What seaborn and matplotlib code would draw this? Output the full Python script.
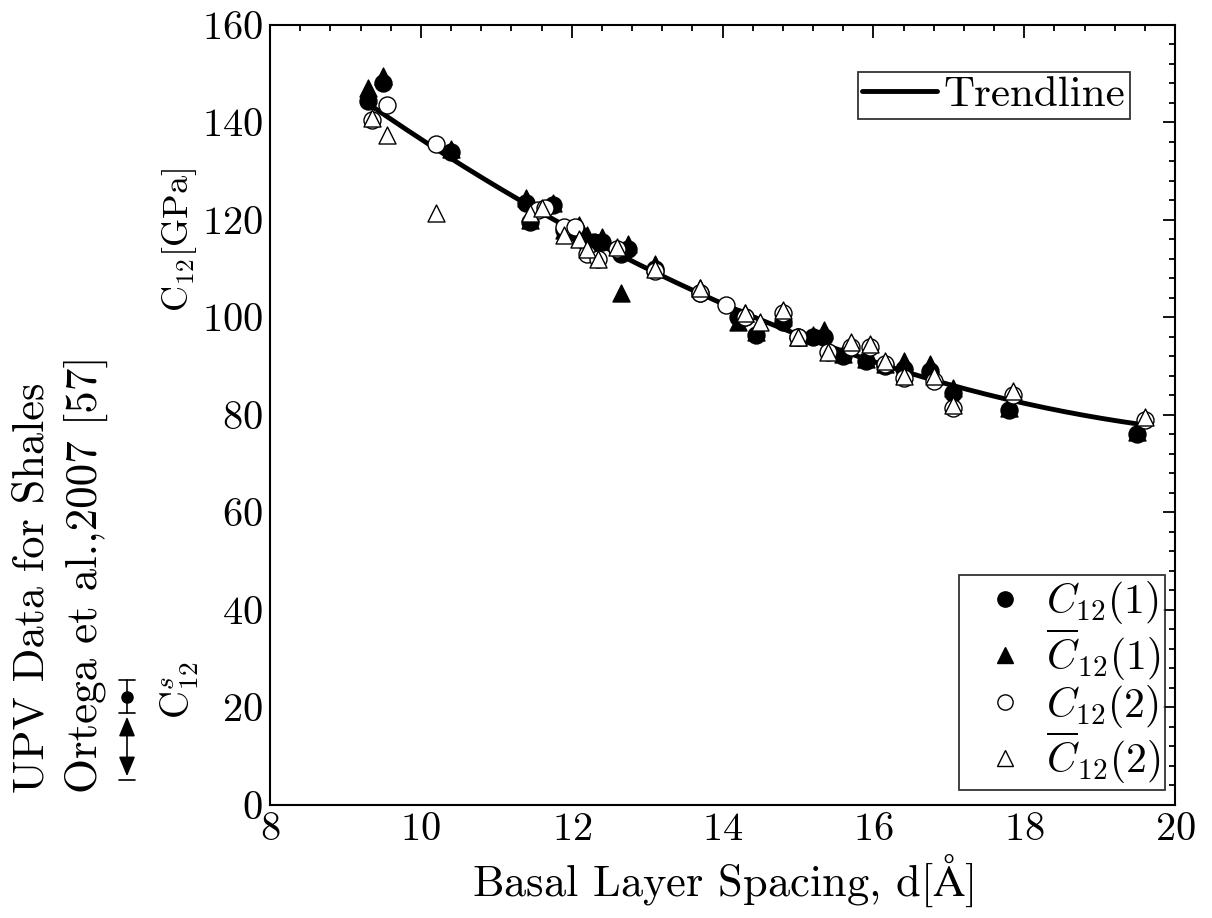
import numpy as np
import pandas as pd
import matplotlib
matplotlib.use("Agg")
import matplotlib.pyplot as plt
from matplotlib.lines import Line2D
from matplotlib.patches import FancyArrowPatch
import seaborn as sns

# Data
d_c1 = [9.3, 9.5, 10.4, 11.4, 11.45, 11.75, 11.9, 12.1, 12.2, 12.3, 12.4, 12.65, 12.75, 13.1, 13.7,
        14.2, 14.3, 14.45, 14.8, 15.0, 15.2, 15.35, 15.6, 15.9, 16.15, 16.4, 16.75, 17.05, 17.8, 19.5]
c12_1 = [144.5, 148, 134, 123.5, 119.5, 123, 118, 117, 115, 115.5, 115.5, 113, 114, 110, 105,
         100, 100, 96.5, 99, 96, 96, 96, 92, 91, 90, 89.5, 89, 84.5, 81, 76]

d_t1 = [9.3, 9.5, 10.4, 11.4, 11.45, 11.75, 11.9, 12.1, 12.2, 12.4, 12.65, 12.75, 13.1, 13.7,
        14.2, 14.3, 14.45, 14.8, 15.0, 15.2, 15.35, 15.6, 15.9, 16.15, 16.4, 16.75, 17.05, 17.8, 19.5]
cbar12_1 = [147, 149.5, 134.5, 124.5, 120, 123.5, 118, 119, 117, 116.5, 105, 115, 111, 106,
            99, 101, 97, 100, 96, 96.5, 97.5, 92.5, 91.5, 90.5, 91, 90.5, 85.5, 81.5, 76.5]

d_c2 = [9.35, 9.55, 10.2, 11.55, 11.65, 11.9, 12.05, 12.2, 12.35, 12.6, 13.1, 13.7, 14.05, 14.3,
        14.8, 15.0, 15.4, 15.7, 15.95, 16.15, 16.4, 16.8, 17.05, 17.85, 19.6]
c12_2 = [140.5, 143.5, 135.5, 122, 122.5, 118.5, 118.5, 113, 112, 114, 109.5, 105, 102.5, 100,
         101, 96, 93, 94, 94, 90.5, 87.5, 87, 81.5, 84, 79]

d_t2 = [9.35, 9.55, 10.2, 11.45, 11.6, 11.9, 12.1, 12.2, 12.35, 12.6, 13.1, 13.7, 14.3, 14.5,
        14.8, 15.0, 15.4, 15.7, 15.95, 16.15, 16.4, 16.8, 17.05, 17.85, 19.6]
cbar12_2 = [141, 137.5, 121.5, 121.5, 122.5, 117, 116, 114, 112, 114.5, 110, 106, 101, 99,
            101.5, 96, 93, 95, 94.5, 91, 88, 88, 82, 85, 79.5]

series_labels = [r"$C_{12}(1)$", r"$\overline{C}_{12}(1)$", r"$C_{12}(2)$", r"$\overline{C}_{12}(2)$"]

sns.set_style("white")
plt.rcParams["font.family"] = ["cmr10", "DejaVu Serif"]
plt.rcParams["mathtext.fontset"] = "cm"
plt.rcParams["axes.formatter.use_mathtext"] = True
plt.rcParams["text.color"] = "black"
plt.rcParams["axes.labelcolor"] = "black"
plt.rcParams["xtick.color"] = "black"
plt.rcParams["ytick.color"] = "black"

fig = plt.figure(figsize=(12.12, 9.18), dpi=100)
ax = fig.add_axes([0.2228, 0.1231, 0.7467, 0.8497])

# Trendline: quadratic fit to all points
all_x = np.array(d_c1 + d_t1 + d_c2 + d_t2)
all_y = np.array(c12_1 + cbar12_1 + c12_2 + cbar12_2)
coef = np.polyfit(all_x, all_y, 2)
xs = np.linspace(min(all_x), 19.5, 200)
trend = pd.DataFrame({"d": xs, "c": np.polyval(coef, xs)})
sns.lineplot(data=trend, x="d", y="c", ax=ax, color="black", lw=3.5, zorder=2)

ms = 150
sns.scatterplot(x=d_c1, y=c12_1, ax=ax, marker="o", s=ms, color="black", edgecolor="black", zorder=3)
sns.scatterplot(x=d_t1, y=cbar12_1, ax=ax, marker="^", s=ms, color="black", edgecolor="black", zorder=3)
sns.scatterplot(x=d_c2, y=c12_2, ax=ax, marker="o", s=ms, facecolor="white", edgecolor="black",
                linewidth=1.0, zorder=4)
sns.scatterplot(x=d_t2, y=cbar12_2, ax=ax, marker="^", s=ms, facecolor="white", edgecolor="black",
                linewidth=1.0, zorder=4)

ax.set_xlim(8, 20)
ax.set_ylim(0, 160)
ax.set_xticks(np.arange(8, 21, 2))
ax.set_yticks(np.arange(0, 161, 20))
ax.set_xticks(np.arange(8, 20.01, 0.4), minor=True)
ax.set_yticks(np.arange(0, 160.1, 4), minor=True)
ax.tick_params(which="both", direction="in", top=True, right=True, labelsize=29, width=1.3)
ax.tick_params(which="major", length=9, pad=5)
ax.tick_params(which="minor", length=4.5)
for sp in ax.spines.values():
    sp.set_linewidth(1.5)
    sp.set_color("black")

ax.set_xlabel(r"Basal Layer Spacing, d[$\mathrm{\AA}$]", fontsize=32, labelpad=3)
ax.set_ylabel("")

# legends
trend_h = [Line2D([], [], color="black", lw=3.5)]
leg1 = ax.legend(trend_h, ["Trendline"], loc="upper right", bbox_to_anchor=(0.950, 0.940),
                 fontsize=31, frameon=True, fancybox=False, edgecolor="black", handlelength=1.75,
                 handletextpad=0.15, borderpad=0.1, borderaxespad=0)
leg1.get_frame().set_linewidth(1.3)
ax.add_artist(leg1)

marker_h = [
    Line2D([], [], ls="", marker="o", ms=11, mfc="black", mec="black"),
    Line2D([], [], ls="", marker="^", ms=11, mfc="black", mec="black"),
    Line2D([], [], ls="", marker="o", ms=11, mfc="white", mec="black", mew=1.0),
    Line2D([], [], ls="", marker="^", ms=11, mfc="white", mec="black", mew=1.0),
]
leg2 = ax.legend(marker_h, series_labels, loc="lower right", bbox_to_anchor=(0.989, 0.019),
                 fontsize=30, frameon=True, fancybox=False, edgecolor="black", handlelength=2.0,
                 handletextpad=0.0, borderpad=0.1, labelspacing=0.0, borderaxespad=0)
leg2.get_frame().set_linewidth(1.3)

# left-hand labels
fig.text(0.1485, 0.739, r"C$_{12}$[GPa]", rotation=90, ha="center", va="center", fontsize=26)
fig.text(0.1485, 0.248, r"C$^{s}_{12}$", rotation=90, ha="center", va="center", fontsize=28)
fig.text(43 / 1212, 1 - 793 / 918, "UPV Data for Shales", rotation=90, rotation_mode="anchor",
         ha="left", va="baseline", fontsize=32)
fig.text(97 / 1212, 1 - 793 / 918, "Ortega et al.,2007 [57]", rotation=90, rotation_mode="anchor",
         ha="left", va="baseline", fontsize=32.5)

# small error-bar symbol next to C^s_12
sx = 127 / 1212
def fy(py):
    return 1 - py / 918
fig.add_artist(Line2D([sx, sx], [fy(680), fy(713)], color="black", lw=1.2,
                      transform=fig.transFigure))
for py in (680, 713, 780):
    fig.add_artist(Line2D([sx - 8 / 1212, sx + 8 / 1212], [fy(py), fy(py)], color="black", lw=1.2,
                          transform=fig.transFigure))
fig.add_artist(Line2D([sx], [fy(697)], marker="o", ms=8, color="black", ls="",
                      transform=fig.transFigure))
fig.add_artist(FancyArrowPatch((sx, fy(714)), (sx, fy(779)),
               arrowstyle="<|-|>,head_length=12,head_width=5", color="black", lw=1.2,
               transform=fig.transFigure))

fig.savefig("out.png", dpi=100)
